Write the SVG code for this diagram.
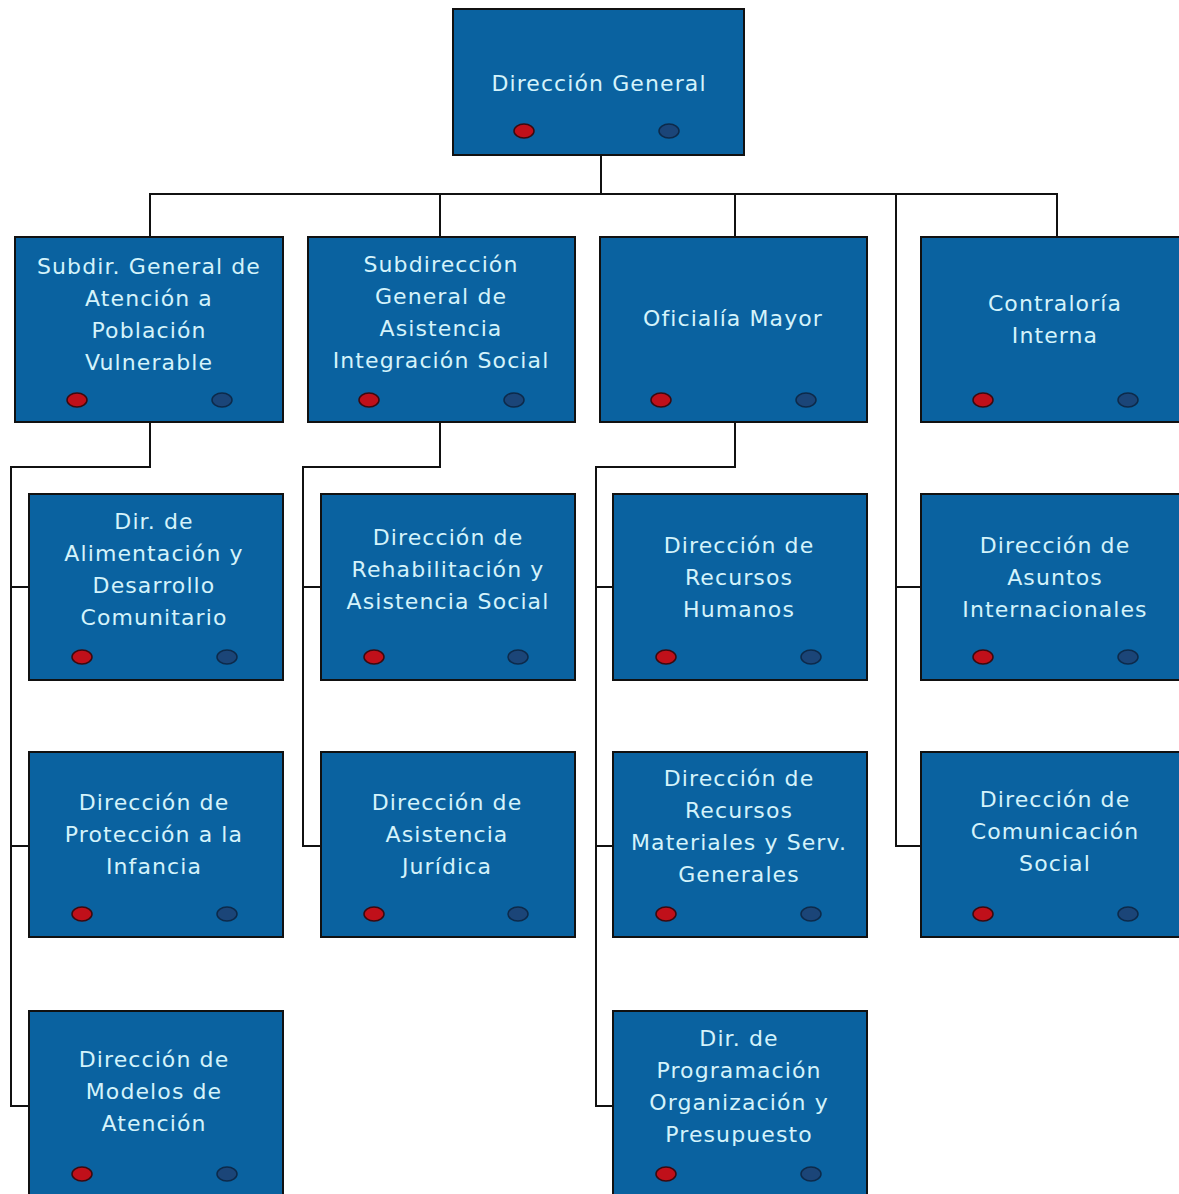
<svg xmlns="http://www.w3.org/2000/svg" width="1179" height="1194" viewBox="0 0 1179 1194">
<style>
.box{fill:#0a62a0;stroke:#111;stroke-width:2}
.t{font-family:"DejaVu Sans",sans-serif;font-size:22px;fill:#d4f3fb;text-anchor:middle;letter-spacing:1.1px}
.r{fill:#c0101a;stroke:#3a0a10;stroke-width:1.5}
.b{fill:#1b4578;stroke:#0d2a4a;stroke-width:1.5}
.c{fill:none;stroke:#111;stroke-width:2}
</style>
<rect width="1179" height="1194" fill="#fff"/>
<g id="connectors">
<path class="c" d="M601 155V194M150 237V194H1057V237M440 194V237M735 194V237"/>
<path class="c" d="M896 194V846H921M896 587H921"/>
<path class="c" d="M150 422V467H11V1106H29M11 587H29M11 846H29"/>
<path class="c" d="M440 422V467H303V846H321M303 587H321"/>
<path class="c" d="M735 422V467H596V1106H613M596 587H613M596 846H613"/>
</g>
<g id="n0"><rect class="box" x="453" y="9" width="291" height="146"/><text class="t" x="599" y="91">Dirección General</text><ellipse class="r" cx="524" cy="131" rx="10" ry="7"/><ellipse class="b" cx="669" cy="131" rx="10" ry="7"/></g>
<g id="n1"><rect class="box" x="15" y="237" width="268" height="185"/><text class="t" x="149" y="274">Subdir. General de</text><text class="t" x="149" y="306">Atención a</text><text class="t" x="149" y="338">Población</text><text class="t" x="149" y="370">Vulnerable</text><ellipse class="r" cx="77" cy="400" rx="10" ry="7"/><ellipse class="b" cx="222" cy="400" rx="10" ry="7"/></g>
<g id="n2"><rect class="box" x="308" y="237" width="267" height="185"/><text class="t" x="441" y="272">Subdirección</text><text class="t" x="441" y="304">General de</text><text class="t" x="441" y="336">Asistencia</text><text class="t" x="441" y="368">Integración Social</text><ellipse class="r" cx="369" cy="400" rx="10" ry="7"/><ellipse class="b" cx="514" cy="400" rx="10" ry="7"/></g>
<g id="n3"><rect class="box" x="600" y="237" width="267" height="185"/><text class="t" x="733" y="326">Oficialía Mayor</text><ellipse class="r" cx="661" cy="400" rx="10" ry="7"/><ellipse class="b" cx="806" cy="400" rx="10" ry="7"/></g>
<g id="n4"><rect class="box" x="921" y="237" width="262" height="185"/><text class="t" x="1055" y="311">Contraloría</text><text class="t" x="1055" y="343">Interna</text><ellipse class="r" cx="983" cy="400" rx="10" ry="7"/><ellipse class="b" cx="1128" cy="400" rx="10" ry="7"/></g>
<g id="n5"><rect class="box" x="29" y="494" width="254" height="186"/><text class="t" x="154" y="529">Dir. de</text><text class="t" x="154" y="561">Alimentación y</text><text class="t" x="154" y="593">Desarrollo</text><text class="t" x="154" y="625">Comunitario</text><ellipse class="r" cx="82" cy="657" rx="10" ry="7"/><ellipse class="b" cx="227" cy="657" rx="10" ry="7"/></g>
<g id="n6"><rect class="box" x="321" y="494" width="254" height="186"/><text class="t" x="448" y="545">Dirección de</text><text class="t" x="448" y="577">Rehabilitación y</text><text class="t" x="448" y="609">Asistencia Social</text><ellipse class="r" cx="374" cy="657" rx="10" ry="7"/><ellipse class="b" cx="518" cy="657" rx="10" ry="7"/></g>
<g id="n7"><rect class="box" x="613" y="494" width="254" height="186"/><text class="t" x="739" y="553">Dirección de</text><text class="t" x="739" y="585">Recursos</text><text class="t" x="739" y="617">Humanos</text><ellipse class="r" cx="666" cy="657" rx="10" ry="7"/><ellipse class="b" cx="811" cy="657" rx="10" ry="7"/></g>
<g id="n8"><rect class="box" x="921" y="494" width="262" height="186"/><text class="t" x="1055" y="553">Dirección de</text><text class="t" x="1055" y="585">Asuntos</text><text class="t" x="1055" y="617">Internacionales</text><ellipse class="r" cx="983" cy="657" rx="10" ry="7"/><ellipse class="b" cx="1128" cy="657" rx="10" ry="7"/></g>
<g id="n9"><rect class="box" x="29" y="752" width="254" height="185"/><text class="t" x="154" y="810">Dirección de</text><text class="t" x="154" y="842">Protección a la</text><text class="t" x="154" y="874">Infancia</text><ellipse class="r" cx="82" cy="914" rx="10" ry="7"/><ellipse class="b" cx="227" cy="914" rx="10" ry="7"/></g>
<g id="n10"><rect class="box" x="321" y="752" width="254" height="185"/><text class="t" x="447" y="810">Dirección de</text><text class="t" x="447" y="842">Asistencia</text><text class="t" x="447" y="874">Jurídica</text><ellipse class="r" cx="374" cy="914" rx="10" ry="7"/><ellipse class="b" cx="518" cy="914" rx="10" ry="7"/></g>
<g id="n11"><rect class="box" x="613" y="752" width="254" height="185"/><text class="t" x="739" y="786">Dirección de</text><text class="t" x="739" y="818">Recursos</text><text class="t" x="739" y="850">Materiales y Serv.</text><text class="t" x="739" y="882">Generales</text><ellipse class="r" cx="666" cy="914" rx="10" ry="7"/><ellipse class="b" cx="811" cy="914" rx="10" ry="7"/></g>
<g id="n12"><rect class="box" x="921" y="752" width="262" height="185"/><text class="t" x="1055" y="807">Dirección de</text><text class="t" x="1055" y="839">Comunicación</text><text class="t" x="1055" y="871">Social</text><ellipse class="r" cx="983" cy="914" rx="10" ry="7"/><ellipse class="b" cx="1128" cy="914" rx="10" ry="7"/></g>
<g id="n13"><rect class="box" x="29" y="1011" width="254" height="190"/><text class="t" x="154" y="1067">Dirección de</text><text class="t" x="154" y="1099">Modelos de</text><text class="t" x="154" y="1131">Atención</text><ellipse class="r" cx="82" cy="1174" rx="10" ry="7"/><ellipse class="b" cx="227" cy="1174" rx="10" ry="7"/></g>
<g id="n14"><rect class="box" x="613" y="1011" width="254" height="190"/><text class="t" x="739" y="1046">Dir. de</text><text class="t" x="739" y="1078">Programación</text><text class="t" x="739" y="1110">Organización y</text><text class="t" x="739" y="1142">Presupuesto</text><ellipse class="r" cx="666" cy="1174" rx="10" ry="7"/><ellipse class="b" cx="811" cy="1174" rx="10" ry="7"/></g>
</svg>
